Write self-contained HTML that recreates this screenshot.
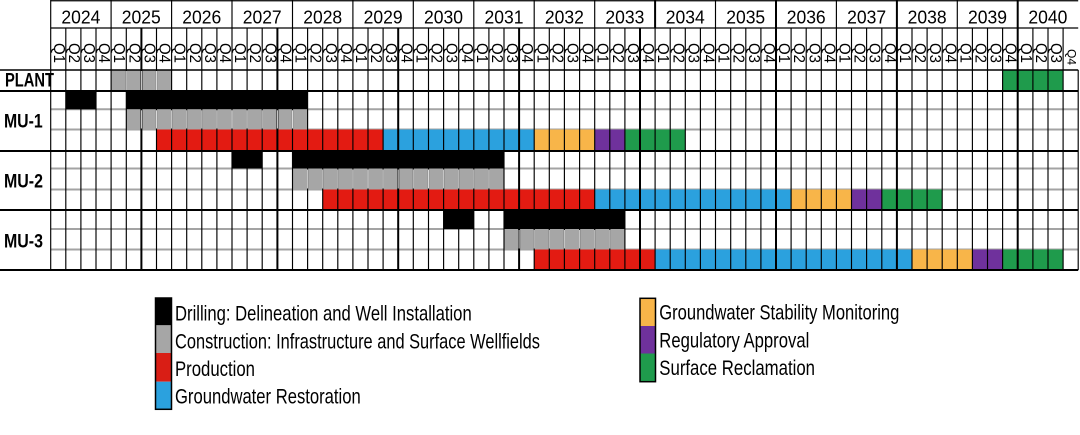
<!DOCTYPE html>
<html>
<head>
<meta charset="utf-8">
<style>
html,body{margin:0;padding:0;background:#fff;}
svg{display:block;}
text{font-family:"Liberation Sans",Arial,sans-serif;fill:#000;}
</style>
</head>
<body>
<svg width="1080" height="435" viewBox="0 0 1080 435" xmlns="http://www.w3.org/2000/svg">
<rect x="0" y="0" width="1080" height="435" fill="#fff"/>

<!-- gray internal horizontal lines -->
<path d="M50.7 109.3H1078.2M50.7 129.5H1078.2M50.7 168.5H1078.2M50.7 189.5H1078.2M50.7 229H1078.2M50.7 249.5H1078.2" stroke="#a3a3a3" stroke-width="2" fill="none"/>

<!-- bars -->
<g>
<rect x="111.1" y="70" width="60.5" height="21" fill="#a6a6a6"/>
<rect x="1002.6" y="70" width="60.5" height="21" fill="#1f9b4c"/>
<rect x="65.8" y="91" width="30.2" height="18.3" fill="#000"/>
<rect x="126.3" y="91" width="181.3" height="18.3" fill="#000"/>
<rect x="126.3" y="109.3" width="181.3" height="20.2" fill="#a6a6a6"/>
<rect x="156.5" y="129.5" width="226.6" height="21.5" fill="#e31b12"/>
<rect x="383.1" y="129.5" width="151.1" height="21.5" fill="#2ba1de"/>
<rect x="534.2" y="129.5" width="60.5" height="21.5" fill="#f8b549"/>
<rect x="594.7" y="129.5" width="30.2" height="21.5" fill="#6f319c"/>
<rect x="624.9" y="129.5" width="60.4" height="21.5" fill="#1f9b4c"/>
<rect x="232.0" y="151" width="30.2" height="17.5" fill="#000"/>
<rect x="292.5" y="151" width="211.5" height="17.5" fill="#000"/>
<rect x="292.5" y="168.5" width="211.5" height="21" fill="#a6a6a6"/>
<rect x="322.7" y="189.5" width="272.0" height="20.5" fill="#e31b12"/>
<rect x="594.7" y="189.5" width="196.4" height="20.5" fill="#2ba1de"/>
<rect x="791.1" y="189.5" width="60.4" height="20.5" fill="#f8b549"/>
<rect x="851.5" y="189.5" width="30.3" height="20.5" fill="#6f319c"/>
<rect x="881.8" y="189.5" width="60.4" height="20.5" fill="#1f9b4c"/>
<rect x="443.6" y="210" width="30.2" height="19" fill="#000"/>
<rect x="504.0" y="210" width="120.9" height="19" fill="#000"/>
<rect x="504.0" y="229" width="120.9" height="20.5" fill="#a6a6a6"/>
<rect x="534.2" y="249.5" width="120.9" height="20.5" fill="#e31b12"/>
<rect x="655.1" y="249.5" width="256.9" height="20.5" fill="#2ba1de"/>
<rect x="912.0" y="249.5" width="60.4" height="20.5" fill="#f8b549"/>
<rect x="972.4" y="249.5" width="30.2" height="20.5" fill="#6f319c"/>
<rect x="1002.6" y="249.5" width="60.5" height="20.5" fill="#1f9b4c"/>
</g>

<!-- thin vertical lines -->
<path d="M50.7 0V270
M65.8 28V270M80.9 28V270M96.0 28V270M111.1 0V270M126.3 28V270
M156.5 28V270M171.6 0V270M186.7 28V270M201.8 28V270M216.9 28V270M232.0 0V270M247.1 28V270M262.2 28V270
M292.5 0V270M307.6 28V270M322.7 28V270M337.8 28V270M352.9 0V270M368.0 28V270M383.1 28V270
M413.3 0V270M428.5 28V270M443.6 28V270M458.7 28V270M473.8 0V270M488.9 28V270M504.0 28V270
M534.2 0V270M549.3 28V270M564.4 28V270M579.6 28V270M594.7 0V270M609.8 28V270M624.9 28V270
M655.1 28V270M670.2 28V270M685.3 28V270M700.4 28V270M715.5 0V270M730.7 28V270M745.8 28V270M760.9 28V270
M791.1 28V270M806.2 28V270M821.3 28V270M836.4 0V270M851.5 28V270M866.6 28V270M881.8 28V270
M912.0 28V270M927.1 28V270M942.2 28V270M957.3 0V270M972.4 28V270M987.5 28V270M1002.6 28V270
M1032.9 28V270M1048.0 28V270M1063.1 28V270
M1078.2 70V270" stroke="#000" stroke-width="1.15" fill="none"/>

<!-- thick vertical lines -->
<path d="M141.4 28V270M277.4 28V270M398.2 28V270M519.1 28V270M640.0 28V270M776.0 0V270M896.9 0V270M1017.7 0V270M655.1 0V28" stroke="#000" stroke-width="2" fill="none"/>

<!-- light separators inside gray bars -->
<path d="M126.3 71V90M141.4 71V90M156.5 71V90
M141.4 110.3V128.5M156.5 110.3V128.5M171.6 110.3V128.5M186.7 110.3V128.5M201.8 110.3V128.5M216.9 110.3V128.5M232.0 110.3V128.5M247.1 110.3V128.5M262.2 110.3V128.5M277.4 110.3V128.5M292.5 110.3V128.5
M307.6 169.5V188.5M322.7 169.5V188.5M337.8 169.5V188.5M352.9 169.5V188.5M368.0 169.5V188.5M383.1 169.5V188.5M398.2 169.5V188.5M413.3 169.5V188.5M428.5 169.5V188.5M443.6 169.5V188.5M458.7 169.5V188.5M473.8 169.5V188.5M488.9 169.5V188.5
M519.1 230V248.5M534.2 230V248.5M549.3 230V248.5M564.4 230V248.5M579.6 230V248.5M594.7 230V248.5M609.8 230V248.5" stroke="#dadada" stroke-width="1" fill="none"/>

<!-- horizontal black lines -->
<path d="M50.7 0.75H1078.2M50.7 28H1078.2" stroke="#000" stroke-width="1.2" fill="none"/>
<path d="M0 70H1078.2" stroke="#000" stroke-width="1.5" fill="none"/>
<path d="M0 91H1078.2M0 151H1078.2M0 210H1078.2M0 270H1078.2" stroke="#000" stroke-width="2" fill="none"/>

<!-- year labels -->
<g font-size="18.5" text-anchor="middle">
<text x="80.9" y="23.3" textLength="39" lengthAdjust="spacingAndGlyphs">2024</text>
<text x="141.3" y="23.3" textLength="39" lengthAdjust="spacingAndGlyphs">2025</text>
<text x="201.8" y="23.3" textLength="39" lengthAdjust="spacingAndGlyphs">2026</text>
<text x="262.2" y="23.3" textLength="39" lengthAdjust="spacingAndGlyphs">2027</text>
<text x="322.7" y="23.3" textLength="39" lengthAdjust="spacingAndGlyphs">2028</text>
<text x="383.1" y="23.3" textLength="39" lengthAdjust="spacingAndGlyphs">2029</text>
<text x="443.5" y="23.3" textLength="39" lengthAdjust="spacingAndGlyphs">2030</text>
<text x="504.0" y="23.3" textLength="39" lengthAdjust="spacingAndGlyphs">2031</text>
<text x="564.4" y="23.3" textLength="39" lengthAdjust="spacingAndGlyphs">2032</text>
<text x="624.9" y="23.3" textLength="39" lengthAdjust="spacingAndGlyphs">2033</text>
<text x="685.3" y="23.3" textLength="39" lengthAdjust="spacingAndGlyphs">2034</text>
<text x="745.7" y="23.3" textLength="39" lengthAdjust="spacingAndGlyphs">2035</text>
<text x="806.2" y="23.3" textLength="39" lengthAdjust="spacingAndGlyphs">2036</text>
<text x="866.6" y="23.3" textLength="39" lengthAdjust="spacingAndGlyphs">2037</text>
<text x="927.1" y="23.3" textLength="39" lengthAdjust="spacingAndGlyphs">2038</text>
<text x="987.5" y="23.3" textLength="39" lengthAdjust="spacingAndGlyphs">2039</text>
<text x="1047.9" y="23.3" textLength="39" lengthAdjust="spacingAndGlyphs">2040</text>
</g>

<!-- quarter labels -->
<g font-size="16" dominant-baseline="central">
<text transform="translate(58.3 43) rotate(90)" textLength="20" lengthAdjust="spacingAndGlyphs">Q1</text>
<text transform="translate(73.4 43) rotate(90)" textLength="20" lengthAdjust="spacingAndGlyphs">Q2</text>
<text transform="translate(88.5 43) rotate(90)" textLength="20" lengthAdjust="spacingAndGlyphs">Q3</text>
<text transform="translate(103.6 43) rotate(90)" textLength="20" lengthAdjust="spacingAndGlyphs">Q4</text>
<text transform="translate(118.7 43) rotate(90)" textLength="20" lengthAdjust="spacingAndGlyphs">Q1</text>
<text transform="translate(133.8 43) rotate(90)" textLength="20" lengthAdjust="spacingAndGlyphs">Q2</text>
<text transform="translate(149.0 43) rotate(90)" textLength="20" lengthAdjust="spacingAndGlyphs">Q3</text>
<text transform="translate(164.1 43) rotate(90)" textLength="20" lengthAdjust="spacingAndGlyphs">Q4</text>
<text transform="translate(179.2 43) rotate(90)" textLength="20" lengthAdjust="spacingAndGlyphs">Q1</text>
<text transform="translate(194.3 43) rotate(90)" textLength="20" lengthAdjust="spacingAndGlyphs">Q2</text>
<text transform="translate(209.4 43) rotate(90)" textLength="20" lengthAdjust="spacingAndGlyphs">Q3</text>
<text transform="translate(224.5 43) rotate(90)" textLength="20" lengthAdjust="spacingAndGlyphs">Q4</text>
<text transform="translate(239.6 43) rotate(90)" textLength="20" lengthAdjust="spacingAndGlyphs">Q1</text>
<text transform="translate(254.7 43) rotate(90)" textLength="20" lengthAdjust="spacingAndGlyphs">Q2</text>
<text transform="translate(269.8 43) rotate(90)" textLength="20" lengthAdjust="spacingAndGlyphs">Q3</text>
<text transform="translate(284.9 43) rotate(90)" textLength="20" lengthAdjust="spacingAndGlyphs">Q4</text>
<text transform="translate(300.0 43) rotate(90)" textLength="20" lengthAdjust="spacingAndGlyphs">Q1</text>
<text transform="translate(315.2 43) rotate(90)" textLength="20" lengthAdjust="spacingAndGlyphs">Q2</text>
<text transform="translate(330.3 43) rotate(90)" textLength="20" lengthAdjust="spacingAndGlyphs">Q3</text>
<text transform="translate(345.4 43) rotate(90)" textLength="20" lengthAdjust="spacingAndGlyphs">Q4</text>
<text transform="translate(360.5 43) rotate(90)" textLength="20" lengthAdjust="spacingAndGlyphs">Q1</text>
<text transform="translate(375.6 43) rotate(90)" textLength="20" lengthAdjust="spacingAndGlyphs">Q2</text>
<text transform="translate(390.7 43) rotate(90)" textLength="20" lengthAdjust="spacingAndGlyphs">Q3</text>
<text transform="translate(405.8 43) rotate(90)" textLength="20" lengthAdjust="spacingAndGlyphs">Q4</text>
<text transform="translate(420.9 43) rotate(90)" textLength="20" lengthAdjust="spacingAndGlyphs">Q1</text>
<text transform="translate(436.0 43) rotate(90)" textLength="20" lengthAdjust="spacingAndGlyphs">Q2</text>
<text transform="translate(451.1 43) rotate(90)" textLength="20" lengthAdjust="spacingAndGlyphs">Q3</text>
<text transform="translate(466.3 43) rotate(90)" textLength="20" lengthAdjust="spacingAndGlyphs">Q4</text>
<text transform="translate(481.4 43) rotate(90)" textLength="20" lengthAdjust="spacingAndGlyphs">Q1</text>
<text transform="translate(496.5 43) rotate(90)" textLength="20" lengthAdjust="spacingAndGlyphs">Q2</text>
<text transform="translate(511.6 43) rotate(90)" textLength="20" lengthAdjust="spacingAndGlyphs">Q3</text>
<text transform="translate(526.7 43) rotate(90)" textLength="20" lengthAdjust="spacingAndGlyphs">Q4</text>
<text transform="translate(541.8 43) rotate(90)" textLength="20" lengthAdjust="spacingAndGlyphs">Q1</text>
<text transform="translate(556.9 43) rotate(90)" textLength="20" lengthAdjust="spacingAndGlyphs">Q2</text>
<text transform="translate(572.0 43) rotate(90)" textLength="20" lengthAdjust="spacingAndGlyphs">Q3</text>
<text transform="translate(587.1 43) rotate(90)" textLength="20" lengthAdjust="spacingAndGlyphs">Q4</text>
<text transform="translate(602.2 43) rotate(90)" textLength="20" lengthAdjust="spacingAndGlyphs">Q1</text>
<text transform="translate(617.4 43) rotate(90)" textLength="20" lengthAdjust="spacingAndGlyphs">Q2</text>
<text transform="translate(632.5 43) rotate(90)" textLength="20" lengthAdjust="spacingAndGlyphs">Q3</text>
<text transform="translate(647.6 43) rotate(90)" textLength="20" lengthAdjust="spacingAndGlyphs">Q4</text>
<text transform="translate(662.7 43) rotate(90)" textLength="20" lengthAdjust="spacingAndGlyphs">Q1</text>
<text transform="translate(677.8 43) rotate(90)" textLength="20" lengthAdjust="spacingAndGlyphs">Q2</text>
<text transform="translate(692.9 43) rotate(90)" textLength="20" lengthAdjust="spacingAndGlyphs">Q3</text>
<text transform="translate(708.0 43) rotate(90)" textLength="20" lengthAdjust="spacingAndGlyphs">Q4</text>
<text transform="translate(723.1 43) rotate(90)" textLength="20" lengthAdjust="spacingAndGlyphs">Q1</text>
<text transform="translate(738.2 43) rotate(90)" textLength="20" lengthAdjust="spacingAndGlyphs">Q2</text>
<text transform="translate(753.3 43) rotate(90)" textLength="20" lengthAdjust="spacingAndGlyphs">Q3</text>
<text transform="translate(768.5 43) rotate(90)" textLength="20" lengthAdjust="spacingAndGlyphs">Q4</text>
<text transform="translate(783.6 43) rotate(90)" textLength="20" lengthAdjust="spacingAndGlyphs">Q1</text>
<text transform="translate(798.7 43) rotate(90)" textLength="20" lengthAdjust="spacingAndGlyphs">Q2</text>
<text transform="translate(813.8 43) rotate(90)" textLength="20" lengthAdjust="spacingAndGlyphs">Q3</text>
<text transform="translate(828.9 43) rotate(90)" textLength="20" lengthAdjust="spacingAndGlyphs">Q4</text>
<text transform="translate(844.0 43) rotate(90)" textLength="20" lengthAdjust="spacingAndGlyphs">Q1</text>
<text transform="translate(859.1 43) rotate(90)" textLength="20" lengthAdjust="spacingAndGlyphs">Q2</text>
<text transform="translate(874.2 43) rotate(90)" textLength="20" lengthAdjust="spacingAndGlyphs">Q3</text>
<text transform="translate(889.3 43) rotate(90)" textLength="20" lengthAdjust="spacingAndGlyphs">Q4</text>
<text transform="translate(904.4 43) rotate(90)" textLength="20" lengthAdjust="spacingAndGlyphs">Q1</text>
<text transform="translate(919.6 43) rotate(90)" textLength="20" lengthAdjust="spacingAndGlyphs">Q2</text>
<text transform="translate(934.7 43) rotate(90)" textLength="20" lengthAdjust="spacingAndGlyphs">Q3</text>
<text transform="translate(949.8 43) rotate(90)" textLength="20" lengthAdjust="spacingAndGlyphs">Q4</text>
<text transform="translate(964.9 43) rotate(90)" textLength="20" lengthAdjust="spacingAndGlyphs">Q1</text>
<text transform="translate(980.0 43) rotate(90)" textLength="20" lengthAdjust="spacingAndGlyphs">Q2</text>
<text transform="translate(995.1 43) rotate(90)" textLength="20" lengthAdjust="spacingAndGlyphs">Q3</text>
<text transform="translate(1010.2 43) rotate(90)" textLength="20" lengthAdjust="spacingAndGlyphs">Q4</text>
<text transform="translate(1025.3 43) rotate(90)" textLength="20" lengthAdjust="spacingAndGlyphs">Q1</text>
<text transform="translate(1040.4 43) rotate(90)" textLength="20" lengthAdjust="spacingAndGlyphs">Q2</text>
<text transform="translate(1055.5 43) rotate(90)" textLength="20" lengthAdjust="spacingAndGlyphs">Q3</text>
<text transform="translate(1071.5 49) rotate(90)" font-size="12">Q4</text>
</g>

<!-- row labels -->
<g font-size="19.5" font-weight="bold">
<text x="5" y="86.7" textLength="49" lengthAdjust="spacingAndGlyphs">PLANT</text>
<text x="4" y="127.7" textLength="38.7" lengthAdjust="spacingAndGlyphs">MU-1</text>
<text x="4" y="187.7" textLength="39" lengthAdjust="spacingAndGlyphs">MU-2</text>
<text x="4" y="247.3" textLength="39" lengthAdjust="spacingAndGlyphs">MU-3</text>
</g>

<!-- legend swatches -->
<rect x="155.5" y="298" width="16" height="27.3" fill="#000"/>
<rect x="155.5" y="325.3" width="16" height="27.7" fill="#a6a6a6"/>
<rect x="155.5" y="353" width="16" height="28.7" fill="#d91e15"/>
<rect x="155.5" y="381.7" width="16" height="27.6" fill="#2ba1de"/>
<rect x="155.5" y="298" width="16" height="111.3" fill="none" stroke="#000" stroke-width="1.5"/>

<rect x="640" y="298.3" width="15.5" height="27.7" fill="#f8b549"/>
<rect x="640" y="326" width="15.5" height="27.5" fill="#6f319c"/>
<rect x="640" y="353.5" width="15.5" height="28.2" fill="#1f9b4c"/>
<rect x="640" y="298.3" width="15.5" height="83.4" fill="none" stroke="#000" stroke-width="1.5"/>

<!-- legend text -->
<g font-size="21">
<text x="175" y="320.7" textLength="296.7" lengthAdjust="spacingAndGlyphs">Drilling: Delineation and Well Installation</text>
<text x="175" y="348.3" textLength="365" lengthAdjust="spacingAndGlyphs">Construction: Infrastructure and Surface Wellfields</text>
<text x="175" y="376" textLength="80" lengthAdjust="spacingAndGlyphs">Production</text>
<text x="175" y="403.3" textLength="185.7" lengthAdjust="spacingAndGlyphs">Groundwater Restoration</text>
<text x="659.3" y="319.3" textLength="240" lengthAdjust="spacingAndGlyphs">Groundwater Stability Monitoring</text>
<text x="659.3" y="347.3" textLength="150" lengthAdjust="spacingAndGlyphs">Regulatory Approval</text>
<text x="659.3" y="375" textLength="155.7" lengthAdjust="spacingAndGlyphs">Surface Reclamation</text>
</g>
</svg>
</body>
</html>
